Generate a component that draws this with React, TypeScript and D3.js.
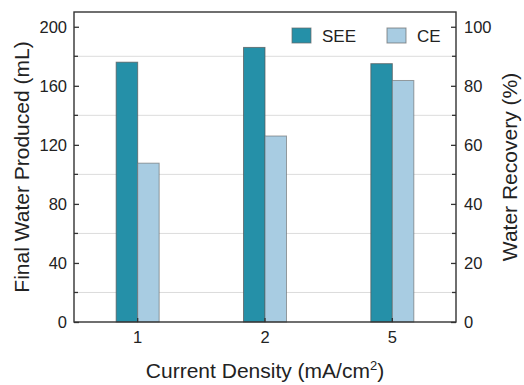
import React, { useEffect, useRef } from "react";
import * as d3 from "d3";

// categories and values
const densities = ["1", "2", "5"];
const seeValues = [176, 186, 175]; // Final water produced, mL (left axis)
const ceValues = [53.8, 63, 81.8]; // Water recovery, % (right axis)
const leftTicks = [0, 40, 80, 120, 160, 200];
const rightTicks = [0, 20, 40, 60, 80, 100];
const legendItems = ["SEE", "CE"];

const App = () => {
  const svgRef = useRef<SVGSVGElement | null>(null);

  useEffect(() => {
    const margin = { top: 12, right: 68, bottom: 63, left: 74 };
    const W = 524;
    const H = 385;
    const width = W - margin.left - margin.right;
    const height = H - margin.top - margin.bottom;
    const font = "'Liberation Sans', Arial, sans-serif";
    const textColor = "#222";
    const colors = ["#2590a8", "#a8cce2"];

    const svg = d3.select(svgRef.current);
    svg.selectAll("*").remove();
    const g = svg.append("g").attr("transform", `translate(${margin.left},${margin.top})`);

    // scales
    const x = d3.scaleBand().domain(densities).range([0, width]).padding(0);
    const yL = d3.scaleLinear().domain([0, 210]).range([height, 0]);
    const yR = d3.scaleLinear().domain([0, 105]).range([height, 0]);
    const barW = 21.5;

    // gridlines at the minor ticks
    const minor = d3.range(20, 210, 40);
    g.append("g")
      .selectAll("line")
      .data(minor)
      .enter()
      .append("line")
      .attr("x1", 0)
      .attr("x2", width)
      .attr("y1", (d) => yL(d))
      .attr("y2", (d) => yL(d))
      .attr("stroke", "#dcdcdc")
      .attr("stroke-width", 1);

    // SEE bars (left axis)
    g.append("g")
      .selectAll("rect")
      .data(seeValues)
      .enter()
      .append("rect")
      .attr("x", (d, i) => x(densities[i])! + x.bandwidth() / 2 - barW)
      .attr("y", (d) => yL(d))
      .attr("width", barW)
      .attr("height", (d) => height - yL(d))
      .attr("fill", colors[0])
      .attr("stroke", "#555")
      .attr("stroke-opacity", 0.7)
      .attr("stroke-width", 1);

    // CE bars (right axis)
    g.append("g")
      .selectAll("rect")
      .data(ceValues)
      .enter()
      .append("rect")
      .attr("x", (d, i) => x(densities[i])! + x.bandwidth() / 2)
      .attr("y", (d) => yR(d))
      .attr("width", barW)
      .attr("height", (d) => height - yR(d))
      .attr("fill", colors[1])
      .attr("stroke", "#666")
      .attr("stroke-opacity", 0.6)
      .attr("stroke-width", 1);

    // axes, ticks inward
    const axisColor = "#333";
    const styleAxis = (sel: any) => {
      sel.select(".domain").remove();
      sel.selectAll(".tick line").attr("stroke", axisColor).attr("stroke-width", 1.3);
      sel.selectAll(".tick text")
        .attr("fill", textColor)
        .style("font-family", font)
        .style("font-size", "16.5px");
    };

    const left = g.append("g").call(
      d3.axisLeft(yL).tickValues(leftTicks).tickSizeInner(-5).tickSizeOuter(0).tickPadding(7)
    );
    styleAxis(left);
    g.append("g")
      .selectAll("line")
      .data(minor)
      .enter()
      .append("line")
      .attr("x1", 0)
      .attr("x2", 4)
      .attr("y1", (d) => yL(d))
      .attr("y2", (d) => yL(d))
      .attr("stroke", axisColor)
      .attr("stroke-width", 1.3);

    const right = g
      .append("g")
      .attr("transform", `translate(${width},0)`)
      .call(d3.axisRight(yR).tickValues(rightTicks).tickSizeInner(-5).tickSizeOuter(0).tickPadding(8));
    styleAxis(right);
    g.append("g")
      .selectAll("line")
      .data(minor.map((d) => d / 2))
      .enter()
      .append("line")
      .attr("x1", width)
      .attr("x2", width - 4)
      .attr("y1", (d) => yR(d))
      .attr("y2", (d) => yR(d))
      .attr("stroke", axisColor)
      .attr("stroke-width", 1.3);

    const bottom = g
      .append("g")
      .attr("transform", `translate(0,${height})`)
      .call(d3.axisBottom(x).tickSizeInner(-4).tickSizeOuter(0).tickPadding(9));
    styleAxis(bottom);

    // frame
    g.append("rect")
      .attr("x", 0)
      .attr("y", 0)
      .attr("width", width)
      .attr("height", height)
      .attr("fill", "none")
      .attr("stroke", axisColor)
      .attr("stroke-width", 1.4);

    // axis titles
    g.append("text")
      .attr("transform", `translate(${-52 + 7},${height / 2}) rotate(-90)`)
      .attr("text-anchor", "middle")
      .attr("fill", textColor)
      .style("font-family", font)
      .style("font-size", "21px")
      .text("Final Water Produced (mL)");

    g.append("text")
      .attr("transform", `translate(${width + 61},${height / 2}) rotate(-90)`)
      .attr("text-anchor", "middle")
      .attr("fill", textColor)
      .style("font-family", font)
      .style("font-size", "21px")
      .text("Water Recovery (%)");

    const xt = g
      .append("text")
      .attr("x", width / 2)
      .attr("y", height + 56)
      .attr("text-anchor", "middle")
      .attr("fill", textColor)
      .style("font-family", font)
      .style("font-size", "21px");
    xt.append("tspan").text("Current Density (mA/cm");
    xt.append("tspan").attr("dy", -8).style("font-size", "13px").text("2");
    xt.append("tspan").attr("dy", 8).text(")");

    // legend
    const legend = g
      .selectAll(".legend")
      .data(legendItems)
      .enter()
      .append("g")
      .attr("class", "legend")
      .attr("transform", (d, i) => `translate(${218 + i * 95},16)`);
    legend
      .append("rect")
      .attr("width", 19)
      .attr("height", 15)
      .attr("fill", (d, i) => colors[i])
      .attr("stroke", "#666")
      .attr("stroke-opacity", 0.7);
    legend
      .append("text")
      .attr("x", 30)
      .attr("y", 14)
      .attr("fill", textColor)
      .style("font-family", font)
      .style("font-size", "17px")
      .text((d) => d);
  }, []);

  return (
    <svg
      ref={svgRef}
      width={524}
      height={385}
      style={{ position: "absolute", left: 0, top: 0, background: "#fff" }}
    />
  );
};

export default App;
